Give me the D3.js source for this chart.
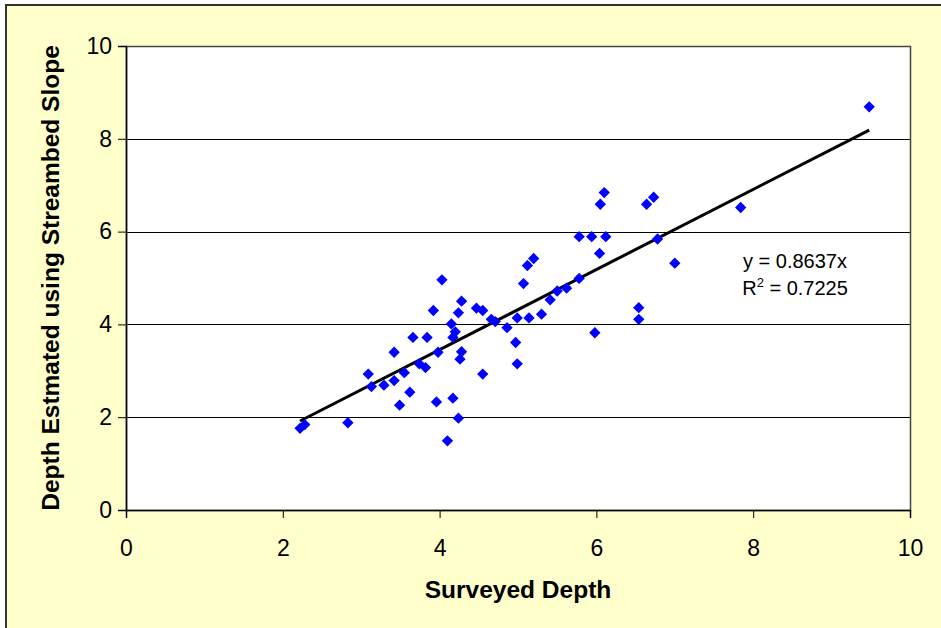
<!DOCTYPE html>
<html>
<head>
<meta charset="utf-8">
<script src="https://cdn.jsdelivr.net/npm/d3@7"></script>
<style>
  body { margin: 0; background: #fff; overflow: hidden; }
  svg text { font-family: Arial, "Liberation Sans", sans-serif; }
</style>
</head>
<body>
<div id="svg-container"></div>
<script>
// surveyed depth vs depth estimated from streambed slope
const surveyed = [
  2.22, 2.28, 2.83, 3.09, 3.13, 3.29, 3.42, 3.42, 3.49, 3.55,
  3.62, 3.66, 3.74, 3.82, 3.84, 3.92, 3.96, 3.98, 4.03, 4.10,
  4.15, 4.17, 4.20, 4.17, 4.24, 4.24, 4.26, 4.28, 4.28, 4.47,
  4.55, 4.55, 4.66, 4.71, 4.86, 4.97, 4.99, 4.99, 5.07, 5.12,
  5.14, 5.20, 5.30, 5.41, 5.50, 5.62, 5.78, 5.78, 5.94, 5.98,
  6.04, 6.05, 6.10, 6.12, 6.54, 6.54, 6.64, 6.73, 6.78, 7.00,
  7.84, 9.48
]
const estimated = [
  1.76, 1.84, 1.88, 2.93, 2.66, 2.69, 2.79, 3.40, 2.26, 2.96,
  2.54, 3.72, 3.15, 3.07, 3.72, 4.30, 2.33, 3.40, 4.96, 1.49,
  4.01, 3.72, 3.84, 2.41, 4.25, 1.98, 3.25, 3.41, 4.50, 4.35,
  4.30, 2.93, 4.11, 4.06, 3.93, 3.61, 3.15, 4.14, 4.88, 5.27,
  4.14, 5.42, 4.22, 4.53, 4.72, 4.78, 4.99, 5.89, 5.89, 3.82,
  5.53, 6.59, 6.84, 5.89, 4.36, 4.11, 6.59, 6.74, 5.84, 5.32,
  6.52, 8.69
]
const xTicks = [0, 2, 4, 6, 8, 10]
const yTicks = [0, 2, 4, 6, 8, 10]
const gridLines = [2, 4, 6, 8]
const slope = 0.8637
const rSquared = 0.7225

const width = 941
const height = 628
const margin = { top: 46, right: 31, bottom: 118, left: 126 }

const svg = d3.select('#svg-container').append('svg')
  .attr('width', width).attr('height', height)

// chart frame runs off the right and bottom of the picture
svg.append('rect')
  .attr('x', 6).attr('y', 5)
  .attr('width', 960).attr('height', 660)
  .attr('fill', '#ffffcc').attr('stroke', '#333').attr('stroke-width', 2)

const x = d3.scaleLinear().domain([0, 10]).range([margin.left, width - margin.right])
const y = d3.scaleLinear().domain([0, 10]).range([height - margin.bottom, margin.top])

svg.append('rect')
  .attr('x', x(0)).attr('y', y(10))
  .attr('width', x(10) - x(0)).attr('height', y(0) - y(10))
  .attr('fill', '#fff')

svg.append('g')
  .selectAll('line')
  .data(gridLines)
  .join('line')
  .attr('x1', x(0)).attr('x2', x(10))
  .attr('y1', d => Math.round(y(d)) + 0.5).attr('y2', d => Math.round(y(d)) + 0.5)
  .attr('stroke', '#000').attr('stroke-width', 1)

svg.append('rect')
  .attr('x', x(0) + 0.5).attr('y', y(10) + 0.5)
  .attr('width', x(10) - x(0)).attr('height', y(0) - y(10))
  .attr('fill', 'none').attr('stroke', '#444').attr('stroke-width', 1.5)

const xAxis = svg.append('g')
  .attr('transform', `translate(0,${y(0)})`)
  .call(d3.axisBottom(x).tickValues(xTicks).tickSize(8).tickPadding(22))
const yAxis = svg.append('g')
  .attr('transform', `translate(${x(0)},0)`)
  .call(d3.axisLeft(y).tickValues(yTicks).tickSize(8).tickPadding(6))

for (const ax of [xAxis, yAxis]) {
  ax.select('.domain').attr('stroke', '#000').attr('stroke-width', 1.5)
  ax.selectAll('.tick line').attr('stroke', '#000')
  ax.selectAll('.tick text')
    .attr('fill', '#000')
    .style('font-size', '23px')
}

// trend line through origin
const trendX = [d3.min(surveyed), d3.max(surveyed)]
svg.append('line')
  .attr('x1', x(trendX[0])).attr('y1', y(slope * trendX[0]))
  .attr('x2', x(trendX[1])).attr('y2', y(slope * trendX[1]))
  .attr('stroke', '#000').attr('stroke-width', 3)

const diamond = d3.symbol().type(d3.symbolSquare).size(64)
svg.append('g')
  .selectAll('path')
  .data(surveyed.map((v, i) => [v, estimated[i]]))
  .join('path')
  .attr('d', diamond)
  .attr('transform', d => `translate(${x(d[0])},${y(d[1])}) rotate(45)`)
  .attr('fill', '#0000ff')

const eq = svg.append('g').style('font-size', '20px').attr('fill', '#000')
eq.append('text')
  .attr('x', 795).attr('y', 268)
  .attr('text-anchor', 'middle')
  .text(`y = ${slope}x`)
const r2 = eq.append('text')
  .attr('x', 795).attr('y', 295)
  .attr('text-anchor', 'middle')
r2.append('tspan').text('R')
r2.append('tspan').attr('dy', -8).style('font-size', '13px').text('2')
r2.append('tspan').attr('dy', 8).text(` = ${rSquared}`)

svg.append('text')
  .attr('x', (x(0) + x(10)) / 2).attr('y', 598)
  .attr('text-anchor', 'middle')
  .style('font-size', '24.5px').style('font-weight', 'bold')
  .text('Surveyed Depth')

svg.append('text')
  .attr('transform', `translate(59,${(y(0) + y(10)) / 2}) rotate(-90)`)
  .attr('text-anchor', 'middle')
  .style('font-size', '24.5px').style('font-weight', 'bold')
  .text('Depth Estmated using Streambed Slope')
</script>
</body>
</html>
